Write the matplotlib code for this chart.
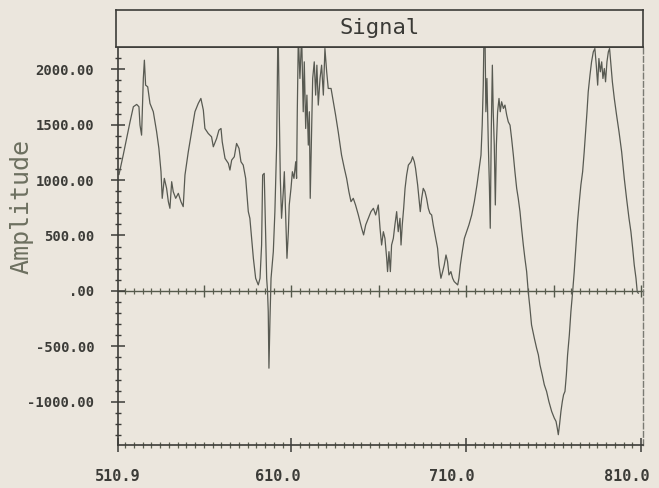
import matplotlib
matplotlib.use('Agg')
import matplotlib.pyplot as plt
import matplotlib.transforms as mtransforms
import numpy as np

# signal trace (x in channel units, y in amplitude)
signal_x = [511.5, 513.9, 517.8, 519.7, 521.6, 522.9, 523.5, 524.4, 525.4, 526.0, 526.7, 527.9,
            529.2, 531.1, 533.0, 534.3, 535.5, 536.2, 537.4, 538.7, 539.7, 540.6, 541.6, 542.5,
            543.9, 545.4, 546.9, 548.2, 549.2, 551.1, 553.0, 554.9, 556.8, 558.3, 559.7, 560.6,
            562.5, 564.4, 565.4, 567.3, 568.6, 569.8, 570.5, 572.1, 574.0, 574.9, 575.9, 577.4,
            578.7, 580.1, 581.2, 582.5, 583.9, 585.4, 586.3, 588.3, 589.6, 591.1, 592.1, 593.0,
            593.6, 594.5, 595.3, 595.9, 596.4, 596.8, 597.2, 597.8, 598.4, 599.7, 600.6, 601.6,
            602.2, 602.5, 603.1, 603.7, 604.4, 605.4, 606.0, 606.7, 607.5, 608.3, 608.8, 609.8,
            610.6, 611.5, 612.5, 613.0, 613.4, 614.0, 614.9, 615.9, 616.8, 617.4, 618.2, 618.9,
            619.7, 620.3, 620.8, 621.4, 622.2, 623.1, 623.9, 624.6, 625.4, 626.4, 627.3, 628.3,
            629.2, 630.2, 631.1, 632.7, 634.0, 635.3, 636.8, 638.7, 640.3, 641.6, 642.9, 644.1,
            645.4, 646.7, 648.3, 650.2, 651.3, 652.5, 654.0, 655.5, 656.9, 658.2, 659.7, 660.7,
            661.6, 662.6, 663.5, 664.5, 665.0, 665.8, 666.6, 667.3, 668.3, 669.2, 670.2, 671.1,
            672.1, 672.7, 673.4, 674.2, 675.0, 675.9, 676.9, 678.4, 679.3, 680.3, 681.0, 682.2,
            683.1, 683.7, 684.5, 685.4, 686.4, 687.3, 688.3, 689.2, 690.2, 691.1, 692.5, 693.6,
            694.4, 695.5, 696.5, 697.4, 698.4, 699.3, 700.1, 701.2, 702.2, 703.1, 704.1, 705.1,
            705.8, 706.6, 707.7, 708.9, 710.2, 711.5, 713.1, 714.6, 716.1, 717.4, 718.4, 719.1,
            719.7, 720.1, 720.7, 721.2, 721.8, 722.6, 723.2, 723.7, 724.3, 724.9, 725.4, 726.0,
            726.6, 727.2, 727.9, 728.7, 729.4, 730.2, 731.2, 732.1, 733.1, 734.0, 735.0, 735.9,
            736.9, 737.8, 738.8, 739.7, 740.7, 741.6, 742.6, 743.5, 744.5, 745.4, 746.4, 747.3,
            748.9, 750.2, 751.2, 752.1, 753.4, 754.6, 755.9, 757.2, 758.8, 760.3, 761.3, 762.0,
            762.6, 763.3, 764.1, 764.9, 765.6, 766.4, 767.2, 767.9, 768.9, 769.8, 770.8, 771.7,
            772.7, 773.6, 774.6, 775.5, 776.5, 777.4, 778.2, 779.0, 779.7, 780.7, 781.6, 782.6,
            783.5, 784.3, 785.1, 785.8, 786.6, 787.4, 788.1, 788.9, 789.6, 790.4, 791.2, 791.9,
            792.7, 793.5, 794.6, 795.9, 797.3, 798.8, 800.3, 801.6, 803.0, 804.1, 805.1, 806.0,
            807.0, 807.7, 808.3]
signal_y = [1050, 1225, 1525, 1661, 1682, 1661, 1495, 1405, 1916, 2081, 1856, 1841,
            1691, 1616, 1435, 1285, 1075, 835, 1015, 925, 805, 745, 985, 895,
            835, 880, 805, 760, 1045, 1255, 1435, 1616, 1691, 1736, 1631, 1465,
            1420, 1390, 1300, 1375, 1450, 1465, 1345, 1195, 1150, 1090, 1180, 1210,
            1330, 1285, 1165, 1135, 1015, 715, 655, 294, 114, 54, 114, 414,
            1045, 1060, 534, 114, -6, -186, -697, -246, 114, 354, 715, 1315,
            2186, 2300, 1616, 1015, 655, 895, 1075, 715, 294, 534, 775, 925,
            1075, 1015, 1165, 1015, 1616, 2300, 1916, 2300, 1616, 2066, 1465, 1766,
            1315, 1616, 835, 1315, 1916, 2066, 1766, 2036, 1676, 1916, 2036, 1766,
            2186, 1976, 1826, 1826, 1706, 1586, 1435, 1225, 1105, 1015, 895, 805,
            835, 775, 685, 565, 505, 595, 655, 715, 745, 685, 775, 565,
            414, 534, 474, 294, 174, 354, 174, 414, 474, 595, 715, 534,
            655, 414, 595, 745, 925, 1045, 1135, 1165, 1210, 1165, 1105, 955,
            805, 715, 835, 925, 895, 835, 745, 700, 685, 595, 474, 384,
            234, 114, 174, 234, 324, 264, 144, 174, 114, 84, 69, 54,
            114, 234, 354, 474, 534, 595, 685, 805, 955, 1105, 1225, 1495,
            1856, 2300, 2300, 1616, 1916, 1315, 955, 565, 1465, 2036, 1616, 1315,
            775, 1315, 1616, 1736, 1616, 1706, 1646, 1676, 1586, 1525, 1495, 1375,
            1225, 1075, 925, 835, 715, 565, 414, 294, 174, -6, -156, -307,
            -427, -517, -577, -667, -757, -847, -907, -997, -1087, -1147, -1177, -1237,
            -1297, -1207, -1087, -997, -937, -907, -757, -577, -397, -186, -6, 174,
            414, 625, 805, 955, 1075, 1255, 1435, 1616, 1796, 1946, 2066, 2156,
            2186, 2036, 1856, 2096, 1976, 2066, 1916, 2006, 1886, 2066, 2156, 2186,
            2036, 1886, 1736, 1586, 1435, 1255, 1015, 835, 655, 534, 384, 234,
            114, -6, -21]

x_ticks = [510.9, 610.0, 710.0, 810.0]
x_labels = ['510.9', '610.0', '710.0', '810.0']
y_ticks = [-1000, -500, 0, 500, 1000, 1500, 2000]
y_labels = ['-1000.00', '-500.00', '.00', '500.00', '1000.00', '1500.00', '2000.00']

x_min, x_max = 510.9, 811.0
y_min, y_max = -1390, 2200

bg = '#ebe6dd'
ink = '#3c3c38'

fig = plt.figure(figsize=(6.59, 4.88), dpi=100, facecolor=bg)
ax = fig.add_axes([0.179, 0.0881, 0.7967, 0.8156], facecolor=bg)

ax.plot(signal_x, signal_y, color='#585a52', linewidth=0.9)
ax.set_xlim(x_min, x_max)
ax.set_ylim(y_min, y_max)

# axes frame
for side in ['left', 'bottom', 'top']:
    ax.spines[side].set_color(ink)
    ax.spines[side].set_linewidth(1.2)
ax.spines['right'].set_color('#7a7a72')
ax.spines['right'].set_linestyle((0, (4, 2)))
ax.spines['right'].set_linewidth(1.0)

mono = 'DejaVu Sans Mono'

ax.set_yticks(y_ticks)
ax.set_yticklabels(y_labels, fontfamily=mono, fontweight='bold', fontsize=10, color=ink)
ax.set_yticks(np.arange(-1300, 2200, 100), minor=True)
ax.tick_params(axis='y', which='major', direction='inout', length=10, width=1.1, color=ink, pad=12)
ax.tick_params(axis='y', which='minor', direction='inout', length=5, width=1.0, color=ink)

ax.set_xticks(x_ticks)
ax.set_xticklabels(x_labels, fontfamily=mono, fontweight='bold', fontsize=11, color=ink)
ax.set_xticks(np.arange(515, 811, 5), minor=True)
ax.tick_params(axis='x', which='major', direction='inout', length=10, width=1.1, color=ink, pad=12)
ax.tick_params(axis='x', which='minor', direction='inout', length=5, width=0.9, color='#5c6050')

# the plotter prints the x labels a little to the left of their ticks
shift = mtransforms.ScaledTranslation(-0.14, 0, fig.dpi_scale_trans)
for lbl in ax.get_xticklabels()[1:]:
    lbl.set_transform(lbl.get_transform() + shift)

# zero line with its own crossing ticks
zero_frac = (0 - y_min) / (y_max - y_min)
zx = ax.secondary_xaxis(zero_frac)
zx.spines['bottom'].set_color('#555a4c')
zx.spines['bottom'].set_linewidth(1.0)
zx.set_xticks(np.arange(560, 811, 50))
zx.set_xticks(np.arange(515, 811, 5), minor=True)
zx.tick_params(which='major', direction='inout', length=9, width=1.0, color='#555a4c', labelbottom=False)
zx.tick_params(which='minor', direction='inout', length=5, width=0.9, color='#5c6050')

ax.set_ylabel('Amplitude', fontfamily=mono, fontsize=18, color='#6d7060')
ax.yaxis.set_label_coords(-0.16, 0.60)

# title box above the plot
tax = fig.add_axes([0.176, 0.9037, 0.7997, 0.0758], facecolor=bg)
tax.set_xticks([])
tax.set_yticks([])
for s in tax.spines.values():
    s.set_color(ink)
    s.set_linewidth(1.2)
tax.text(0.5, 0.5, 'Signal', ha='center', va='center', fontfamily=mono,
         fontsize=16, color='#3a3a36', transform=tax.transAxes)

fig.savefig('out.png', dpi=100, facecolor=bg)
plt.close(fig)
